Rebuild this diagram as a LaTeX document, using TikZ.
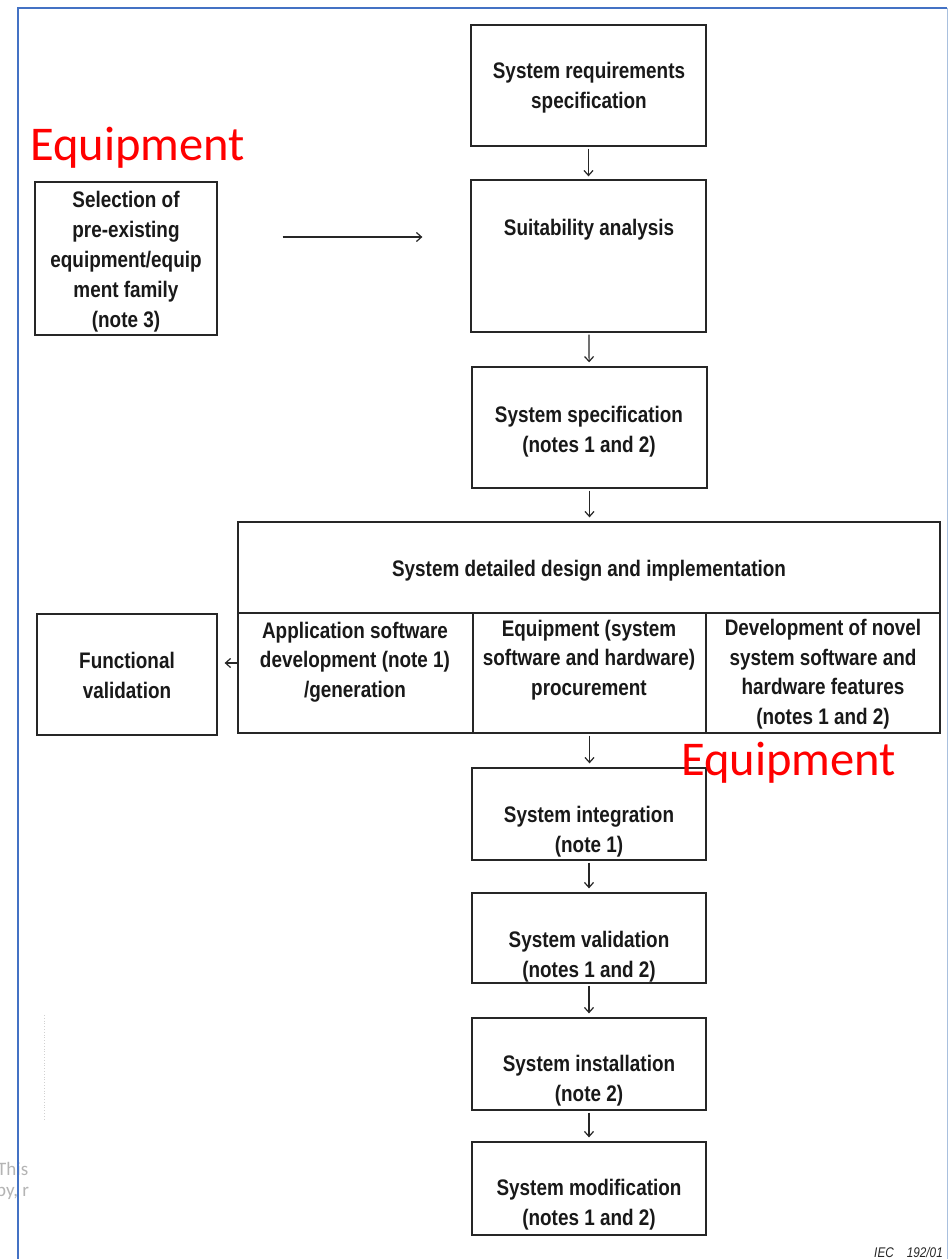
\documentclass[tikz,border=0pt]{standalone}
\usepackage{fontspec}
\newfontfamily\diagfont[FakeStretch=0.84]{Liberation Sans}
\newfontfamily\calfont{Carlito}
\usetikzlibrary{arrows.meta,fit}
\definecolor{frameblue}{HTML}{4472C4}
\definecolor{framelight}{HTML}{A9C0DE}
\definecolor{eqred}{HTML}{FF0000}
\definecolor{notegrey}{HTML}{B4B4B4}
\begin{document}
\begin{tikzpicture}[x=1pt,y=-1pt,
  box/.style={draw=black!85, line width=1.3pt, inner sep=0pt},
  txt/.style={font=\diagfont\bfseries\fontsize{22.5}{29.5}\selectfont, align=center, inner sep=0pt, anchor=base, text=black!90},
  arr/.style={-{Straight Barb[length=5pt,width=9pt]}, line width=1.2pt, draw=black!85},
  redlbl/.style={font=\calfont\fontsize{48.5}{58}\selectfont, text=eqred, inner sep=0pt, anchor=base west}]
\useasboundingbox (0,0) rectangle (948,1259);
\fill[white] (0,0) rectangle (948,1259);

% boxes (text nodes anchored at the baseline of their last line)
\node[box, fit={(471,25)(706,146)}] (srs) {};
\node[txt] (srst) at (589,108) {System requirements\\specification};
\node[box, fit={(471,180)(706,332)}] (suit) {};
\node[txt] (suitt) at (589,235) {Suitability analysis};
\node[box, fit={(35,182)(217,335)}] (sel) {};
\node[txt, font=\diagfont\bfseries\fontsize{22.5}{30}\selectfont] (selt) at (126,327) {Selection of\\pre-existing\\equipment/equip\\ment family\\(note 3)};
\node[box, fit={(472,367)(707,488)}] (spec) {};
\node[txt] (spect) at (589,452) {System specification\\(notes 1 and 2)};
\node[box, fit={(238,522)(940,613)}] (design) {};
\node[txt] (designt) at (589,576) {System detailed design and implementation};
\node[box, fit={(238,613)(473,733)}] (app) {};
\node[txt] (appt) at (355,697) {Application software\\development (note 1)\\/generation};
\node[box, fit={(473,613)(706,733)}] (proc) {};
\node[txt] (proct) at (589,695) {Equipment (system\\software and hardware)\\procurement};
\node[box, fit={(706,613)(940,733)}] (novel) {};
\node[txt] (novelt) at (823,724) {Development of novel\\system software and\\hardware features\\(notes 1 and 2)};
\node[box, fit={(37,614)(217,735)}] (func) {};
\node[txt] (funct) at (127,698) {Functional\\validation};
\node[box, fit={(472,768)(706,860)}] (integ) {};
\node[txt] (integt) at (589,852) {System integration\\(note 1)};
\node[box, fit={(472,893)(706,983)}] (valid) {};
\node[txt] (validt) at (589,977) {System validation\\(notes 1 and 2)};
\node[box, fit={(472,1018)(706,1110)}] (inst) {};
\node[txt] (instt) at (589,1101) {System installation\\(note 2)};
\node[box, fit={(472,1142)(706,1235)}] (modif) {};
\node[txt] (modift) at (589,1225) {System modification\\(notes 1 and 2)};

% connectors
\draw[arr, shorten <=2pt, shorten >=3pt] (srs) -- (suit);
\draw[arr, shorten <=2pt, shorten >=4pt] (suit) -- (spec);
\draw[arr, shorten <=2pt, shorten >=4pt] (spec.south) -- (spec.south |- design.north);
\draw[arr, shorten <=2pt, shorten >=4pt] (proc.south) -- (proc.south |- integ.north);
\draw[arr, shorten <=2pt, shorten >=4pt] (integ) -- (valid);
\draw[arr, shorten <=2pt, shorten >=4pt] (valid) -- (inst);
\draw[arr, shorten <=2pt, shorten >=4pt] (inst) -- (modif);
\path (sel.east) ++(0,-21.5) coordinate (selA);
\draw[arr, shorten <=65pt, shorten >=48pt] (selA) -- (selA -| suit.west);
\draw[arr, shorten >=7pt] ([yshift=10pt]app.west) -- ([yshift=10pt]app.west -| func.east);

% red labels
\node[redlbl] (eq1) at (30,160) {Equipment};
\node[redlbl] (eq2) at (681,775) {Equipment};

% IEC reference
\node[font=\diagfont\itshape\fontsize{14}{16}\selectfont, anchor=base east, inner sep=0pt, text=black!85] (iec) at (943,1257) {IEC\hspace{13pt}192/01};

% faint scan artefact
\draw[black!18, dotted, line width=0.8pt] (44,1015) -- (44,1120);

% clipped grey text
\begin{scope}
\clip (0,1150) rectangle (30,1210);
\node[font=\calfont\fontsize{19}{23}\selectfont, text=notegrey, anchor=base west, inner sep=0pt] (g1) at (-3,1175) {This};
\node[font=\calfont\fontsize{19}{23}\selectfont, text=notegrey, anchor=base west, inner sep=0pt] (g2) at (-4,1196) {py, r};
\end{scope}

% frame
\draw[frameblue, line width=2pt] (18,1259) -- (18,8) -- (947,8);
\draw[framelight, line width=1pt] (947,8) -- (947,1259);
\end{tikzpicture}
\end{document}
